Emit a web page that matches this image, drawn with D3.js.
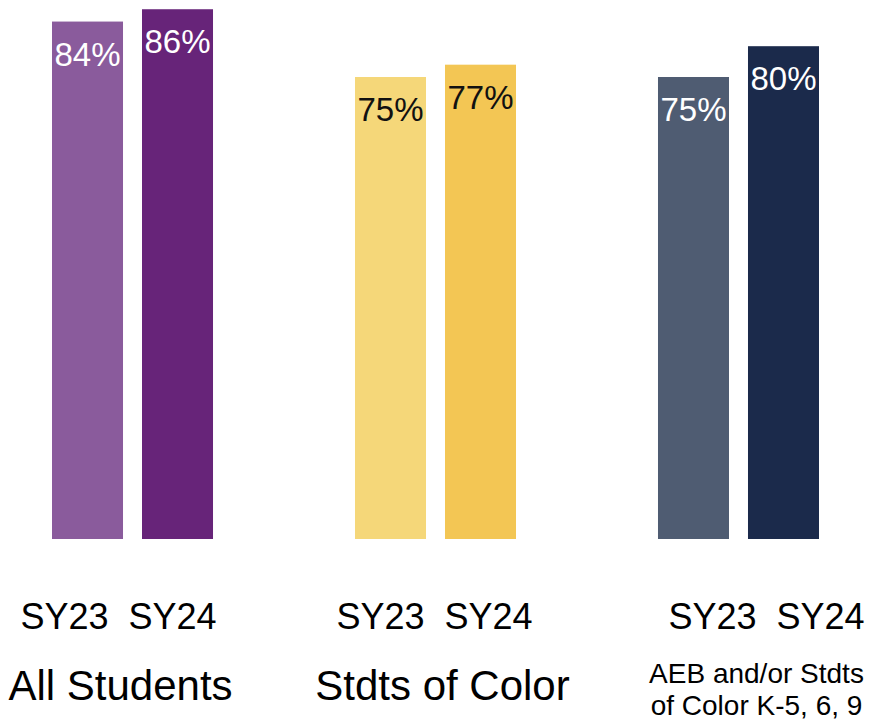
<!DOCTYPE html>
<html>
<head>
<meta charset="utf-8">
<script src="https://cdn.jsdelivr.net/npm/d3@7"></script>
<style>
  html, body { margin: 0; padding: 0; background: #fff; }
  svg { display: block; font-family: "Liberation Sans", Arial, sans-serif; }
</style>
</head>
<body>
<svg width="873" height="723"></svg>
<script>
const groups = ['All Students', 'Stdts of Color', 'AEB and/or Stdts|of Color K-5, 6, 9'];
const years = ['SY23', 'SY24'];
const sy23 = [84, 75, 75];
const sy24 = [86, 77, 80];

const barColors = [
  ['#8a5b9c', '#672479'],
  ['#f5d779', '#f3c654'],
  ['#4f5c72', '#1b2a4b'],
];
const labelColors = [
  ['#fff', '#fff'],
  ['#111', '#111'],
  ['#fff', '#fff'],
];
// the text boxes under each group are not quite centred in the original
const tickNudge = [-14, -1, 28];
const nameNudge = [-12, 7, 18];

const rows = groups.map((g, i) => ({
  group: g,
  gi: i,
  values: [sy23[i], sy24[i]],
}));

const xGroup = d3.scaleBand().domain(groups).range([52, 819]).paddingInner(0.4686);
const xYear = d3.scaleBand().domain(years).range([0, xGroup.bandwidth()]).paddingInner(0.211);
const yScale = d3.scaleLinear().domain([0, 100]).range([539, -77]);

const svg = d3.select('svg');

const g = svg
  .selectAll('.group')
  .data(rows)
  .enter()
  .append('g')
  .classed('group', true)
  .attr('transform', (d) => `translate(${xGroup(d.group)},0)`);

const cells = g
  .selectAll('.cell')
  .data((d) => d.values.map((v, j) => ({ v, year: years[j], gi: d.gi, j })))
  .enter()
  .append('g')
  .classed('cell', true);

cells
  .append('rect')
  .attr('x', (d) => xYear(d.year))
  .attr('width', xYear.bandwidth())
  .attr('y', (d) => yScale(d.v))
  .attr('height', (d) => yScale(0) - yScale(d.v))
  .attr('fill', (d) => barColors[d.gi][d.j]);

cells
  .append('text')
  .attr('x', (d) => xYear(d.year) + xYear.bandwidth() / 2)
  .attr('y', (d) => yScale(d.v) + 44)
  .attr('text-anchor', 'middle')
  .attr('font-size', 33)
  .attr('fill', (d) => labelColors[d.gi][d.j])
  .text((d) => d.v + '%');

// year row
g.append('text')
  .attr('x', (d) => xGroup.bandwidth() / 2 + tickNudge[d.gi])
  .attr('y', 629)
  .attr('text-anchor', 'middle')
  .attr('font-size', 36)
  .attr('fill', '#000')
  .text(years.join('\u00a0\u00a0'));

// group names
g.each(function (d) {
  const lines = d.group.split('|');
  const t = d3
    .select(this)
    .append('text')
    .attr('text-anchor', 'middle')
    .attr('fill', '#000')
    .attr('font-size', lines.length > 1 ? 28 : 42);
  lines.forEach((line, k) => {
    t.append('tspan')
      .attr('x', xGroup.bandwidth() / 2 + nameNudge[d.gi])
      .attr('y', lines.length > 1 ? 683 + k * 32 : 700)
      .text(line);
  });
});
</script>
</body>
</html>
